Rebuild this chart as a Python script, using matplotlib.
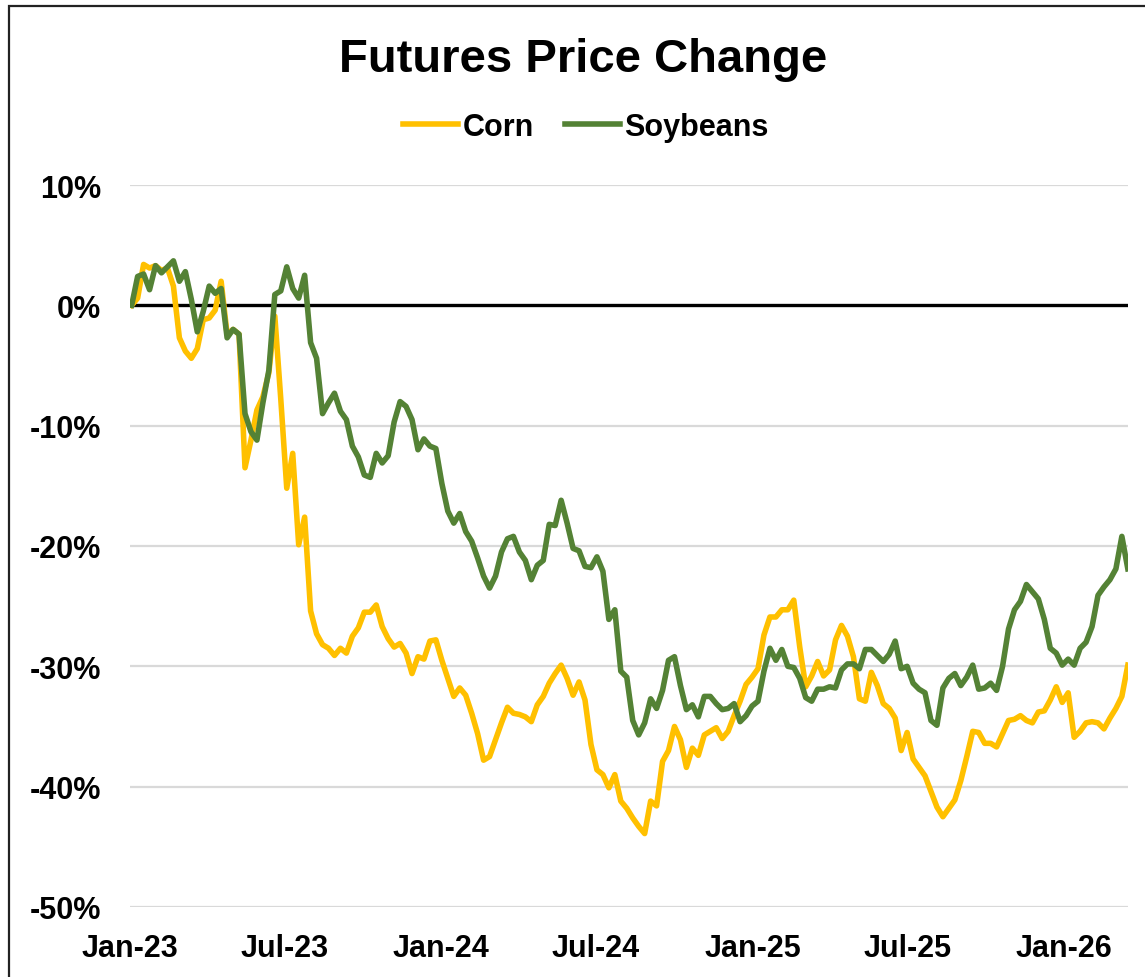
import numpy as np
import pandas as pd
import matplotlib
matplotlib.use("Agg")
import matplotlib.pyplot as plt
import matplotlib.dates as mdates
from matplotlib.patches import Rectangle

# weekly futures price change since first week of Jan-23 (%)
dates = pd.date_range("2023-01-03", periods=168, freq="7D")

corn = [
    0.0, 0.6, 3.4, 3.1, 3.3, 2.9, 3.1, 1.6, -2.7, -3.8,
    -4.4, -3.6, -1.2, -1.05, -0.4, 2.0, -2.4, -2.0, -2.4, -13.5,
    -11.2, -8.7, -7.6, -5.6, -0.9, -7.8, -15.2, -12.3, -19.9, -17.6,
    -25.4, -27.3, -28.2, -28.5, -29.1, -28.5, -28.9, -27.5, -26.8, -25.5,
    -25.5, -24.9, -26.7, -27.7, -28.4, -28.1, -28.9, -30.6, -29.2, -29.4,
    -27.9, -27.8, -29.5, -31.0, -32.5, -31.8, -32.4, -33.9, -35.6, -37.8,
    -37.5, -36.1, -34.7, -33.4, -33.9, -34.0, -34.2, -34.6, -33.2, -32.5,
    -31.4, -30.6, -29.9, -31.0, -32.4, -31.3, -32.8, -36.5, -38.6, -39.0,
    -40.1, -39.0, -41.2, -41.8, -42.6, -43.3, -43.9, -41.2, -41.6, -37.9,
    -37.0, -35.0, -36.1, -38.4, -36.8, -37.4, -35.7, -35.4, -35.1, -36.0,
    -35.4, -34.1, -32.9, -31.5, -30.9, -30.2, -27.4, -25.9, -25.9, -25.3,
    -25.3, -24.5, -28.4, -31.7, -30.8, -29.6, -30.8, -30.3, -27.8, -26.6,
    -27.5, -29.2, -32.7, -32.9, -30.5, -31.6, -33.1, -33.5, -34.3, -37.0,
    -35.5, -37.7, -38.4, -39.1, -40.4, -41.7, -42.5, -41.8, -41.1, -39.5,
    -37.5, -35.4, -35.5, -36.4, -36.4, -36.7, -35.6, -34.5, -34.4, -34.1,
    -34.5, -34.7, -33.8, -33.7, -32.8, -31.7, -33.0, -32.2, -35.9, -35.4,
    -34.7, -34.6, -34.7, -35.2, -34.3, -33.5, -32.5, -29.9,
]

soybeans = [
    0.0, 2.4, 2.6, 1.3, 3.3, 2.7, 3.2, 3.7, 2.0, 2.8,
    0.5, -2.2, -0.5, 1.6, 1.0, 1.4, -2.7, -2.0, -2.4, -9.0,
    -10.5, -11.2, -8.1, -5.4, 0.9, 1.2, 3.2, 1.4, 0.6, 2.5,
    -3.1, -4.4, -9.0, -8.1, -7.3, -8.8, -9.5, -11.7, -12.6, -14.1,
    -14.3, -12.3, -13.1, -12.5, -9.7, -8.0, -8.4, -9.5, -12.0, -11.1,
    -11.7, -11.9, -14.8, -17.1, -18.1, -17.3, -18.8, -19.6, -21.0, -22.5,
    -23.5, -22.5, -20.5, -19.4, -19.2, -20.5, -21.2, -22.8, -21.6, -21.2,
    -18.2, -18.3, -16.2, -18.1, -20.2, -20.4, -21.7, -21.8, -20.9, -22.1,
    -26.1, -25.3, -30.4, -30.9, -34.5, -35.7, -34.7, -32.7, -33.5, -32.0,
    -29.5, -29.2, -31.6, -33.6, -33.2, -34.2, -32.5, -32.5, -33.1, -33.6,
    -33.5, -33.1, -34.6, -34.1, -33.3, -32.9, -30.4, -28.5, -29.5, -28.6,
    -30.0, -30.1, -31.0, -32.6, -32.9, -31.9, -31.9, -31.7, -31.8, -30.3,
    -29.8, -29.8, -30.2, -28.6, -28.6, -29.1, -29.6, -29.0, -27.9, -30.2,
    -30.0, -31.4, -31.9, -32.2, -34.5, -34.9, -31.8, -31.0, -30.6, -31.6,
    -30.9, -29.9, -31.9, -31.8, -31.4, -32.0, -30.0, -26.9, -25.3, -24.6,
    -23.2, -23.8, -24.4, -26.1, -28.5, -28.9, -29.9, -29.4, -29.9, -28.5,
    -28.0, -26.7, -24.1, -23.4, -22.8, -21.9, -19.2, -21.9,
]

y_ticks = [10, 0, -10, -20, -30, -40, -50]

plt.rcParams["font.family"] = ["Liberation Sans", "DejaVu Sans"]
plt.rcParams["font.weight"] = "bold"

fig = plt.figure(figsize=(11.45, 9.78), dpi=100)
ax = fig.add_axes([0.1135, 0.0716, 0.8715, 0.7382])

# chart frame (cut off at right and bottom like the original)
fig.patches.append(Rectangle((9 / 1145, -0.05), 1.2, 1 - 7 / 978 + 0.05,
                             transform=fig.transFigure, fill=False,
                             edgecolor="#222222", linewidth=1.6))

for t in y_ticks:
    if t != 0:
        ax.axhline(t, color="#D9D9D9", linewidth=1.6, zorder=0)
ax.axhline(0, color="black", linewidth=2.4, zorder=1)

ax.plot(dates, corn, color="#FFC000", linewidth=4.0, label="Corn", zorder=3,
        solid_joinstyle="round")
ax.plot(dates, soybeans, color="#548235", linewidth=4.0, label="Soybeans",
        zorder=4, solid_joinstyle="round")

ax.set_ylim(-50, 10)
ax.set_yticks(y_ticks)
ax.set_yticklabels([f"{t}%" for t in y_ticks])
ax.set_xlim(pd.Timestamp("2023-01-01"), dates[-1])
ax.xaxis.set_major_locator(mdates.MonthLocator(bymonth=[1, 7]))
ax.xaxis.set_major_formatter(mdates.DateFormatter("%b-%y"))

ax.tick_params(axis="both", length=0, labelsize=22)
ax.tick_params(axis="y", pad=21)
ax.tick_params(axis="x", pad=19)
for s in ax.spines.values():
    s.set_visible(False)

fig.text(583 / 1145, 1 - 72 / 978, "Futures Price Change", ha="center",
         va="baseline", fontsize=34, fontweight="bold")

fig.legend(loc="center", bbox_to_anchor=(586 / 1145, 1 - 128 / 978),
           ncol=2, frameon=False, fontsize=22, handlelength=1.8,
           handletextpad=0.15, columnspacing=1.0)

plt.savefig("out.png", dpi=100)
